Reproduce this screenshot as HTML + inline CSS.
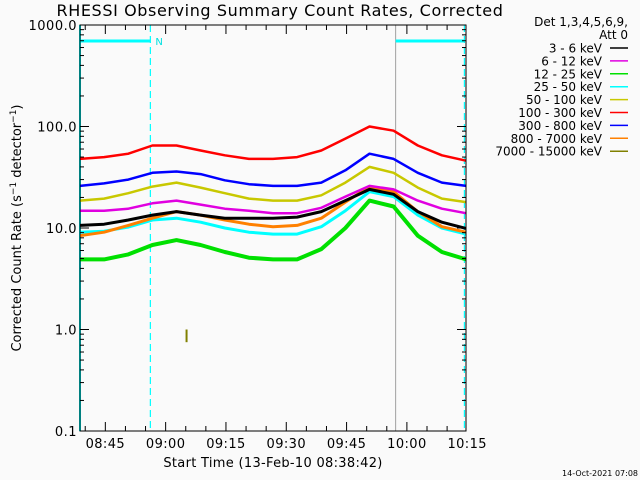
<!DOCTYPE html>
<html><head><meta charset="utf-8">
<style>
body{margin:0;background:#fafafa;}
svg{display:block;font-family:"DejaVu Sans","Liberation Sans",sans-serif;}
</style></head>
<body>
<svg id="chart" width="640" height="480" viewBox="0 0 640 480">
<rect x="0" y="0" width="640" height="480" fill="#fafafa"/>
<text x="280" y="16" font-size="16" letter-spacing="0.6" text-anchor="middle" fill="#000">RHESSI Observing Summary Count Rates, Corrected</text>
<text transform="translate(21,228) rotate(-90)" font-size="13" text-anchor="middle" fill="#000">Corrected Count Rate (s<tspan baseline-shift="super" font-size="9">−1</tspan> detector<tspan baseline-shift="super" font-size="9">−1</tspan>)</text>
<text x="273" y="467" font-size="13" letter-spacing="0.3" text-anchor="middle" fill="#000">Start Time (13-Feb-10 08:38:42)</text>
<text x="638" y="476" font-size="8" text-anchor="end" fill="#000">14-Oct-2021 07:08</text>
<g id="marks"></g>
<g id="axes"></g>
<g id="legend"></g>
</svg>
<script>
const times = [0,6,12,18,24,30,36,42,48,54,60,66,72,78,84,90,96];
const seriesNames = ["3 - 6 keV","6 - 12 keV","12 - 25 keV","25 - 50 keV","50 - 100 keV","100 - 300 keV","300 - 800 keV","800 - 7000 keV","7000 - 15000 keV"];
const seriesColors = ["#000000","#e000e0","#00e000","#00ffff","#c8c800","#ff0000","#0000ff","#ff8000","#808000"];
const s3_6 = [10.6,10.9,12,13.4,14.5,13.4,12.5,12.5,12.5,12.8,14.5,18.6,24,21.5,14.5,11.4,9.9];
const s6_12 = [14.8,14.8,15.5,17.5,18.6,17,15.5,14.8,14,14,15.8,20.4,26,24,18.6,15.5,14];
const s12_25 = [4.9,4.9,5.5,6.8,7.6,6.8,5.8,5.1,4.9,4.9,6.2,10,18.6,16.3,8.4,5.8,4.9];
const s25_50 = [9.1,9.3,10.2,12,12.5,11.4,10,9.1,8.7,8.7,10.3,14.8,22.8,20.4,13.4,10,8.7];
const s50_100 = [18.6,19.5,22,25.6,28,25,22,19.5,18.6,18.6,21,28,40,35,25,19.5,18];
const s100_300 = [48,50,54,65,65,58,52,48,48,50,58,76,100,91,65,52,46];
const s300_800 = [26,27.5,30,35,36,34,29.5,27,26,26,28,37,54,48,35,28,26];
const s800_7000 = [8.4,9.1,10.6,12.5,14.5,13.4,12,10.9,10.3,10.6,12.5,18,25.6,22.8,14.5,10.3,9.1];
const spikeTime = [26.5,26.5];
const spikeVals = [0.75,1.0];
const yTickVals = [1000,100,10,1,0.1];
const yTickLabels = ["1000.0","100.0","10.0","1.0","0.1"];
const xTickMins = [6.3,21.3,36.3,51.3,66.3,81.3,96.3];
const xTickLabels = ["08:45","09:00","09:15","09:30","09:45","10:00","10:15"];
const markerTimes = [17.5,78.5,95.6];

const NS="http://www.w3.org/2000/svg";
const L=80,R=466,T=25,B=431;
const pxPerMin=(R-L)/96;
function xs(t){return L+t*pxPerMin;}
function ys(v){return B-(Math.log10(v)+1)*(B-T)/4;}
function mk(tag,attrs,parent){const e=document.createElementNS(NS,tag);for(const k in attrs)e.setAttribute(k,attrs[k]);parent.appendChild(e);return e;}
const marks=document.getElementById('marks');
const axes=document.getElementById('axes');
const legend=document.getElementById('legend');

let e;
e=mk('line',{x1:L,y1:T,x2:L,y2:B,stroke:'#00ffff','stroke-width':2},marks);


e=mk('line',{x1:xs(markerTimes[0]),y1:T,x2:xs(markerTimes[0]),y2:B,stroke:'#00ffff','stroke-width':1.2,'stroke-dasharray':'7,4'},marks);


e=mk('line',{x1:xs(markerTimes[1]),y1:T,x2:xs(markerTimes[1]),y2:B,stroke:'#a0a0a0','stroke-width':1},marks);


e=mk('line',{x1:xs(markerTimes[2]),y1:T,x2:xs(markerTimes[2]),y2:B,stroke:'#00ffff','stroke-width':1.2,'stroke-dasharray':'7,4'},marks);


e=mk('line',{x1:L,y1:41,x2:xs(markerTimes[0]),y2:41,stroke:'#00ffff','stroke-width':3},marks);


e=mk('line',{x1:xs(markerTimes[1]),y1:41,x2:xs(markerTimes[2]),y2:41,stroke:'#00ffff','stroke-width':3},marks);


e=mk('text',{x:xs(markerTimes[0])+5,y:45,'font-size':10,fill:'#00e0e0'},marks);
e.textContent='N';



const seriesData=[s12_25,s25_50,s800_7000,s3_6,s6_12,s50_100,s300_800,s100_300];
const seriesIdx=[2,3,7,0,1,4,6,5];
const widths=[4,3,3,3,2.5,2.5,2.5,2.5];
seriesData.forEach((arr,k)=>{
  const i=seriesIdx[k];
  const pts=arr.map((v,j)=>xs(times[j]).toFixed(1)+','+ys(v).toFixed(1)).join(' ');
  const p=mk('polyline',{points:pts,fill:'none',stroke:seriesColors[i],'stroke-width':widths[k],'stroke-linejoin':'round'},marks);
  
  
});
e=mk('line',{x1:xs(spikeTime[0]),y1:ys(spikeVals[0]),x2:xs(spikeTime[1]),y2:ys(spikeVals[1]),stroke:seriesColors[8],'stroke-width':2},marks);



e=mk('rect',{x:L,y:T,width:R-L,height:B-T,fill:'none',stroke:'#000','stroke-width':1},axes);


for(let d=-1;d<3;d++){
  for(let m=1;m<10;m++){
    const v=m*Math.pow(10,d);const y=ys(v);const len=m===1?9:4;
    mk('line',{x1:L,y1:y,x2:L+len,y2:y,stroke:'#000'},axes);
    mk('line',{x1:R,y1:y,x2:R-len,y2:y,stroke:'#000'},axes);
  }
}
yTickVals.forEach((v,i)=>{
  const t=mk('text',{x:L-3,y:ys(v)+5,'font-size':13,'letter-spacing':0.5,'text-anchor':'end',fill:'#000'},axes);
  t.textContent=yTickLabels[i];
  
  
});
for(let t=xTickMins[0]-5;t<=96;t+=5){
  if(t<0)continue;
  const major=xTickMins.some(m=>Math.abs(m-t)<0.01);
  const len=major?9:5;const x=xs(t);
  mk('line',{x1:x,y1:B,x2:x,y2:B-len,stroke:'#000'},axes);
  mk('line',{x1:x,y1:T,x2:x,y2:T+len,stroke:'#000'},axes);
}
xTickMins.forEach((m,i)=>{
  const t=mk('text',{x:xs(m),y:B+17,'font-size':13,'letter-spacing':0.4,'text-anchor':'middle',fill:'#000'},axes);
  t.textContent=xTickLabels[i];
  
  
});
e=mk('text',{x:628,y:26,'font-size':12,'text-anchor':'end',fill:'#000'},legend);
e.textContent='Det 1,3,4,5,6,9,';


e=mk('text',{x:628,y:39,'font-size':12,'text-anchor':'end',fill:'#000'},legend);
e.textContent='Att 0';


seriesNames.forEach((n,i)=>{
  const y=48+i*12.9;
  const t=mk('text',{x:602,y:y+4.5,'font-size':12,'text-anchor':'end',fill:'#000'},legend);
  t.textContent=n;
  
  
  const l=mk('line',{x1:610,y1:y,x2:628,y2:y,stroke:seriesColors[i],'stroke-width':1.5},legend);
  
  
});
</script>
</body></html>
